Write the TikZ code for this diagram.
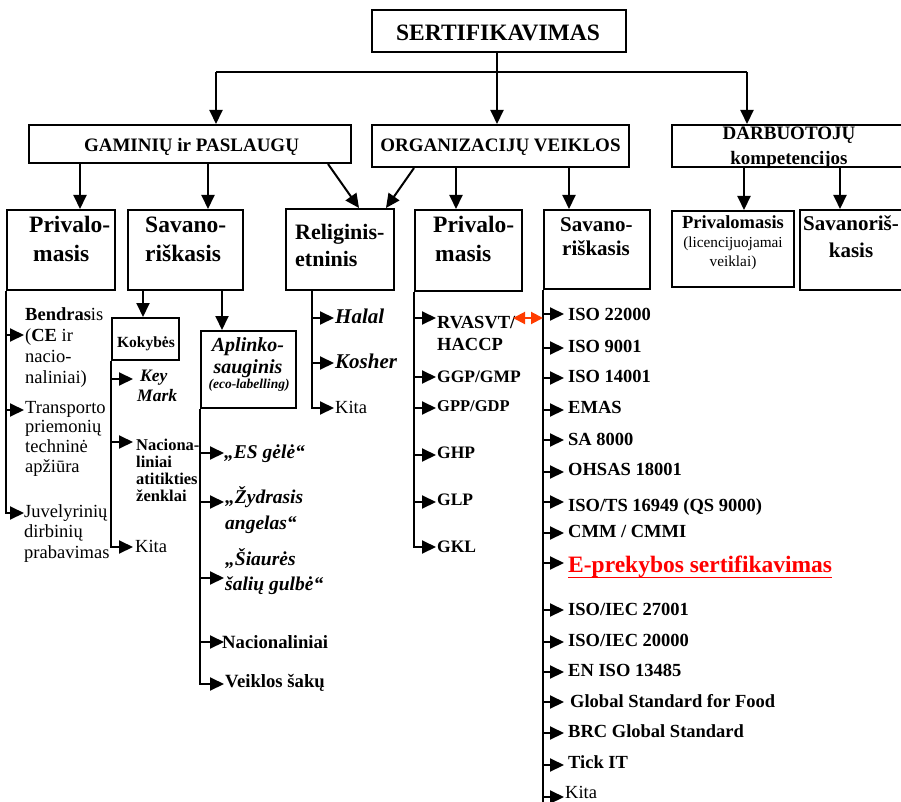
\documentclass[tikz,border=0pt]{standalone}
\usepackage{fontspec}
\setmainfont{Liberation Serif}
\usetikzlibrary{arrows.meta}
\newcommand\fsz[2]{\fontsize{#1}{#2}\selectfont}
\newcommand\ml[2]{\begin{tabular}[t]{@{}#1@{}}#2\end{tabular}}
\definecolor{dblred}{RGB}{255,60,0}
\definecolor{ered}{RGB}{255,0,0}
\begin{document}
\begin{tikzpicture}[x=1pt,y=-1pt,
  box/.style={draw, line width=2pt, inner sep=0pt},
  lbl/.style={inner sep=0pt, anchor=base west},
  lblc/.style={inner sep=0pt, anchor=base},
  conn/.style={line width=2pt},
  arr/.style={line width=2pt, -{Triangle[length=14pt,width=13pt]}},
  item/.style={lbl, font=\fsz{18.5}{22}\bfseries},
  bi/.style={lbl, font=\fsz{19.5}{26}\bfseries\itshape},
]
\useasboundingbox (0,0) rectangle (901,802);
\clip (0,0) rectangle (901,802);
\fill[white] (0,0) rectangle (901,802);

% ---------- boxes ----------
\node[box, minimum width=254pt, minimum height=42pt] (sert) at (499,31) {};
\node[box, minimum width=322pt, minimum height=38pt] (gam) at (190,144) {};
\node[box, minimum width=257pt, minimum height=42pt] (org) at (500.5,146) {};
\node[box, minimum width=234pt, minimum height=42pt] (darb) at (789,146) {};
\node[box, minimum width=108pt, minimum height=80pt] (priv1) at (61,250) {};
\node[box, minimum width=115pt, minimum height=80pt] (sav1) at (185.5,250) {};
\node[box, minimum width=108pt, minimum height=81pt] (rel) at (340,249.5) {};
\node[box, minimum width=107pt, minimum height=81pt] (priv2) at (468.5,250.5) {};
\node[box, minimum width=106pt, minimum height=79pt] (sav2) at (597,249.5) {};
\node[box, minimum width=122pt, minimum height=76pt] (priv3) at (733,249) {};
\node[box, minimum width=104pt, minimum height=80pt] (sav3) at (852,250) {};
\node[box, minimum width=67pt, minimum height=42pt] (kok) at (145.5,339) {};
\node[box, minimum width=95pt, minimum height=77pt] (apl) at (248.5,369.5) {};

% ---------- box texts ----------
\node[lblc, font=\fsz{23.5}{26}\bfseries] (sertT) at (498,41) {SERTIFIKAVIMAS};
\node[lblc, font=\fsz{19}{22}\bfseries] (gamT) at (191.5,151.5) {GAMINIŲ ir PASLAUGŲ};
\node[lblc, font=\fsz{19}{22}\bfseries] (orgT) at (500.5,151.5) {ORGANIZACIJŲ VEIKLOS};
\node[lblc, font=\fsz{19}{25}\bfseries] (darbT) at (789,140) {\ml{c}{DARBUOTOJŲ\\kompetencijos}};
\node[lbl, font=\fsz{23.5}{29}\bfseries] (priv1T) at (29,233) {\ml{l}{Privalo-\\\hspace{4pt}masis}};
\node[lbl, font=\fsz{23.5}{29}\bfseries] (sav1T) at (145,233) {\ml{l}{Savano-\\riškasis}};
\node[lbl, font=\fsz{22}{27}\bfseries] (relT) at (295,240) {\ml{l}{Religinis-\\etninis}};
\node[lbl, font=\fsz{23.5}{29}\bfseries] (priv2T) at (433,233) {\ml{l}{Privalo-\\\hspace{2pt}masis}};
\node[lbl, font=\fsz{21}{24}\bfseries] (sav2T) at (560,232) {\ml{l}{Savano-\\\hspace{2pt}riškasis}};
\node[lblc, font=\fsz{18.5}{19}] (priv3T) at (733,229) {\ml{c}{\textbf{Privalomasis}\\\fsz{15.3}{19}(licencijuojamai\\\fsz{15.3}{19}veiklai)}};
\node[lblc, font=\fsz{21}{27}\bfseries] (sav3T) at (851,230) {\ml{c}{Savanoriš-\\kasis}};
\node[lblc, font=\fsz{15.5}{18}\bfseries] (kokT) at (146,347) {Kokybės};
\node[lblc, font=\fsz{20}{22}\bfseries\itshape] (aplT) at (248,351) {\ml{c}{Aplinko-\\sauginis}};
\node[lblc, font=\fsz{13.5}{15}\bfseries\itshape] (aplT2) at (249,388) {(eco-labelling)};

% ---------- top connectors ----------
\coordinate (hl) at (216,72);
\coordinate (hr) at (747,72);
\coordinate (xs) at (497,0);
\draw[conn] (hl) -- (hr);
\draw[arr] (sert.south -| xs) -- (org.north -| xs);
\draw[arr] (hl) -- (hl |- gam.north);
\draw[arr] (hr) -- (hr |- darb.north);

\coordinate (x1) at (80,0);   \draw[arr] (gam.south -| x1) -- (priv1.north -| x1);
\coordinate (x2) at (208,0);  \draw[arr] (gam.south -| x2) -- (sav1.north -| x2);
\coordinate (x3) at (328,0);  \coordinate (x4) at (359,0);
\draw[arr] (gam.south -| x3) -- (rel.north -| x4);
\coordinate (x5) at (414,0);  \coordinate (x6) at (386,0);
\draw[arr] (org.south -| x5) -- (rel.north -| x6);
\coordinate (x7) at (456,0);  \draw[arr] (org.south -| x7) -- (priv2.north -| x7);
\coordinate (x8) at (569,0);  \draw[arr] (org.south -| x8) -- (sav2.north -| x8);
\coordinate (x9) at (744,0);  \draw[arr] (darb.south -| x9) -- (priv3.north -| x9);
\coordinate (x10) at (840,0); \draw[arr] (darb.south -| x10) -- (sav3.north -| x10);
\coordinate (x11) at (143,0); \draw[arr] (sav1.south -| x11) -- (kok.north -| x11);
\coordinate (x12) at (222,0); \draw[arr] (sav1.south -| x12) -- (apl.north -| x12);

% ---------- column 1: Privalomasis ----------
\draw[arr] (priv1.south west) |- (24,513);
\draw[arr] (7,335) -- (24,335);
\draw[arr] (7,410) -- (24,410);
\node[lbl, font=\fsz{18.5}{21}] (c1a) at (25,320) {\ml{l}{\textbf{Bendras}is\\(\textbf{CE} ir\\nacio-\\naliniai)}};
\node[lbl, font=\fsz{18.5}{19.7}] (c1b) at (25,413) {\ml{l}{Transporto\\priemonių\\techninė\\apžiūra}};
\node[lbl, font=\fsz{18.5}{20.5}] (c1c) at (24,517) {\ml{l}{Juvelyrinių\\dirbinių\\prabavimas}};

% ---------- column 2: Kokybes ----------
\draw[arr] (kok.south west) |- (133,547);
\draw[arr] (112,379) -- (133,379);
\draw[arr] (112,442) -- (133,442);
\node[lbl, font=\fsz{17.5}{20}\bfseries\itshape] (c2a) at (137,381) {\ml{l}{\hspace{3pt}Key\\Mark}};
\node[lbl, font=\fsz{16.5}{17}\bfseries] (c2b) at (136,450) {\ml{l}{Naciona-\\liniai\\atitikties\\ženklai}};
\node[lbl, font=\fsz{18.5}{20}] (c2c) at (135,552) {Kita};

% ---------- column 3: Aplinkosauginis ----------
\draw[arr] (apl.south west) |- (224,684);
\draw[arr] (201,453) -- (224,453);
\draw[arr] (201,502) -- (224,502);
\draw[arr] (201,578) -- (224,578);
\draw[arr] (201,642) -- (224,642);
\node[bi] (c3a) at (224,458) {„ES gėlė“};
\node[bi] (c3b) at (225,503) {\ml{l}{„Žydrasis\\angelas“}};
\node[lbl, font=\fsz{19.5}{25}\bfseries\itshape] (c3c) at (225,565) {\ml{l}{„Šiaurės\\šalių gulbė“}};
\node[lbl, font=\fsz{18.7}{20}\bfseries] (c3d) at (222,648) {Nacionaliniai};
\node[lbl, font=\fsz{18.7}{20}\bfseries] (c3e) at (225,687) {Veiklos šakų};

% ---------- column 4: Religinis ----------
\coordinate (x13) at (312,0);
\draw[arr] (rel.south -| x13) |- (334,408);
\draw[arr] (312,318) -- (334,318);
\draw[arr] (312,363) -- (334,363);
\node[lbl, font=\fsz{21}{22}\bfseries\itshape] (c4a) at (335,323) {Halal};
\node[lbl, font=\fsz{21}{22}\bfseries\itshape] (c4b) at (335,368) {Kosher};
\node[lbl, font=\fsz{18.5}{20}] (c4c) at (335,413) {Kita};

% ---------- column 5: Privalomasis (org) ----------
\draw[arr] (priv2.south west) |- (436,547);
\foreach \yy in {318,377,408,455,502} \draw[arr] (415,\yy) -- (436,\yy);
\node[lbl, font=\fsz{18.5}{22}\bfseries] (c5a) at (437,328) {\ml{l}{RVASVT/\\HACCP}};
\node[lbl, font=\fsz{17.5}{20}\bfseries] (c5b) at (437,382) {GGP/GMP};
\node[lbl, font=\fsz{16.5}{20}\bfseries] (c5c) at (437,411) {GPP/GDP};
\node[lbl, font=\fsz{17.5}{20}\bfseries] (c5d) at (437,458) {GHP};
\node[lbl, font=\fsz{17.5}{20}\bfseries] (c5e) at (437,505) {GLP};
\node[lbl, font=\fsz{17.5}{20}\bfseries] (c5f) at (437,552) {GKL};

% ---------- column 6: Savanoriskasis (org) ----------
\draw[conn] (sav2.south west) -- ++(0,530);
\foreach \yy in {314,348,378,410,440,472,502,533,563,610,642,672,702,733,765,797}
  \draw[arr] (544,\yy) -- (564,\yy);
\node[item] (s1) at (568,320) {ISO 22000};
\node[item] (s2) at (568,352) {ISO 9001};
\node[item] (s3) at (568,382) {ISO 14001};
\node[item] (s4) at (568,413) {EMAS};
\node[item] (s5) at (568,445) {SA 8000};
\node[item] (s6) at (568,475) {OHSAS 18001};
\node[item] (s7) at (568,511) {ISO/TS 16949 (QS 9000)};
\node[item] (s8) at (568,537) {CMM / CMMI};
\node[lbl, font=\fsz{23.5}{26}\bfseries, text=ered] (ep) at (568,572) {E-prekybos sertifikavimas};
\draw[ered, line width=1.5pt] (ep.south west) -- (ep.south east);
\node[item] (s10) at (568,615) {ISO/IEC 27001};
\node[item] (s11) at (568,646) {ISO/IEC 20000};
\node[item] (s12) at (568,676) {EN ISO 13485};
\node[item] (s13) at (570,707) {Global Standard for Food};
\node[item] (s14) at (568,737) {BRC Global Standard};
\node[item] (s15) at (568,768) {Tick IT};
\node[lbl, font=\fsz{18.5}{20}] (s16) at (565,798) {Kita};

% ---------- red double arrow ----------
\coordinate (dl) at (513,318);
\coordinate (dr) at (543,318);
\draw[line width=2pt, dblred, {Triangle[length=12pt,width=12pt]}-{Triangle[length=12pt,width=12pt]}] (dl) -- (dr);
\end{tikzpicture}
\end{document}
